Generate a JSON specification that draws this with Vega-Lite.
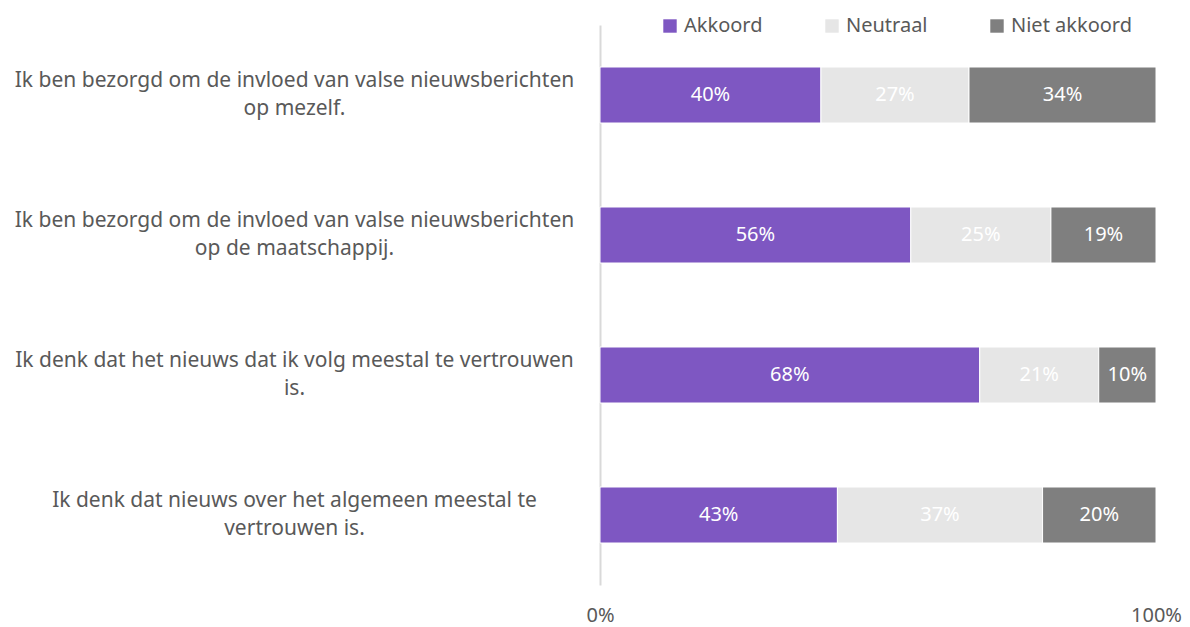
{
  "$schema": "https://vega.github.io/schema/vega-lite/v6.json",
  "width": 556,
  "height": 560,
  "autosize": {"type": "none"},
  "padding": {"left": 600, "top": 25, "right": 34, "bottom": 42},
  "background": "white",
  "config": {
    "font": "Noto Sans",
    "view": {"stroke": null}
  },
  "data": {
    "values": [
      {"q": "Ik ben bezorgd om de invloed van valse nieuwsberichten\nop mezelf.", "cat": "Akkoord", "pct": 0.397},
      {"q": "Ik ben bezorgd om de invloed van valse nieuwsberichten\nop mezelf.", "cat": "Neutraal", "pct": 0.266},
      {"q": "Ik ben bezorgd om de invloed van valse nieuwsberichten\nop mezelf.", "cat": "Niet akkoord", "pct": 0.336},
      {"q": "Ik ben bezorgd om de invloed van valse nieuwsberichten\nop de maatschappij.", "cat": "Akkoord", "pct": 0.559},
      {"q": "Ik ben bezorgd om de invloed van valse nieuwsberichten\nop de maatschappij.", "cat": "Neutraal", "pct": 0.252},
      {"q": "Ik ben bezorgd om de invloed van valse nieuwsberichten\nop de maatschappij.", "cat": "Niet akkoord", "pct": 0.189},
      {"q": "Ik denk dat het nieuws dat ik volg meestal te vertrouwen\nis.", "cat": "Akkoord", "pct": 0.683},
      {"q": "Ik denk dat het nieuws dat ik volg meestal te vertrouwen\nis.", "cat": "Neutraal", "pct": 0.214},
      {"q": "Ik denk dat het nieuws dat ik volg meestal te vertrouwen\nis.", "cat": "Niet akkoord", "pct": 0.103},
      {"q": "Ik denk dat nieuws over het algemeen meestal te\nvertrouwen is.", "cat": "Akkoord", "pct": 0.427},
      {"q": "Ik denk dat nieuws over het algemeen meestal te\nvertrouwen is.", "cat": "Neutraal", "pct": 0.369},
      {"q": "Ik denk dat nieuws over het algemeen meestal te\nvertrouwen is.", "cat": "Niet akkoord", "pct": 0.204}
    ]
  },
  "transform": [
    {"stack": "pct", "groupby": ["q"], "sort": [{"field": "cat", "order": "ascending"}], "offset": "normalize", "as": ["s0", "s1"]},
    {"calculate": "(datum.s0 + datum.s1) / 2", "as": "mid"}
  ],
  "encoding": {
    "y": {
      "field": "q",
      "type": "nominal",
      "sort": null,
      "scale": {"paddingInner": 0.6, "paddingOuter": 0.3},
      "axis": {
        "title": null,
        "domainColor": "#D9D9D9",
        "domainWidth": 2,
        "ticks": false,
        "labelPadding": 306,
        "labelAlign": "center",
        "labelOffset": -14,
        "labelFontSize": 21,
        "labelColor": "#595959",
        "labelLimit": 0,
        "labelLineHeight": 28,
        "labelExpr": "split(datum.value, '\\n')",
        "encode": {"labels": {"update": {"dx": {"signal": "datum.index == 1 ? 38 : 0"}}}}
      }
    }
  },
  "layer": [
    {
      "mark": {"type": "bar", "stroke": "white", "strokeWidth": 1},
      "encoding": {
        "x": {
          "field": "s0",
          "type": "quantitative",
          "scale": {"domain": [0, 1], "nice": false},
          "axis": {
            "title": null,
            "values": [0, 1],
            "format": ".0%",
            "domain": false,
            "ticks": false,
            "grid": false,
            "labelPadding": 20,
            "labelFontSize": 20,
            "labelColor": "#595959",
            "labelFlush": false
          }
        },
        "x2": {"field": "s1"},
        "color": {
          "field": "cat",
          "type": "nominal",
          "scale": {"domain": ["Akkoord", "Neutraal", "Niet akkoord"], "range": ["#7E57C2", "#E6E6E6", "#7F7F7F"]},
          "legend": {
            "title": null,
            "orient": "none",
            "legendX": 60,
            "legendY": -9,
            "direction": "horizontal",
            "symbolType": "square",
            "symbolSize": 180,
            "symbolStrokeWidth": 0,
            "labelFontSize": 20,
            "labelColor": "#595959",
            "labelOffset": 4,
            "columnPadding": 59
          }
        }
      }
    },
    {
      "mark": {"type": "text", "color": "white", "fontSize": 20},
      "encoding": {
        "x": {"field": "mid", "type": "quantitative"},
        "text": {"field": "pct", "type": "quantitative", "format": ".0%"}
      }
    }
  ]
}
